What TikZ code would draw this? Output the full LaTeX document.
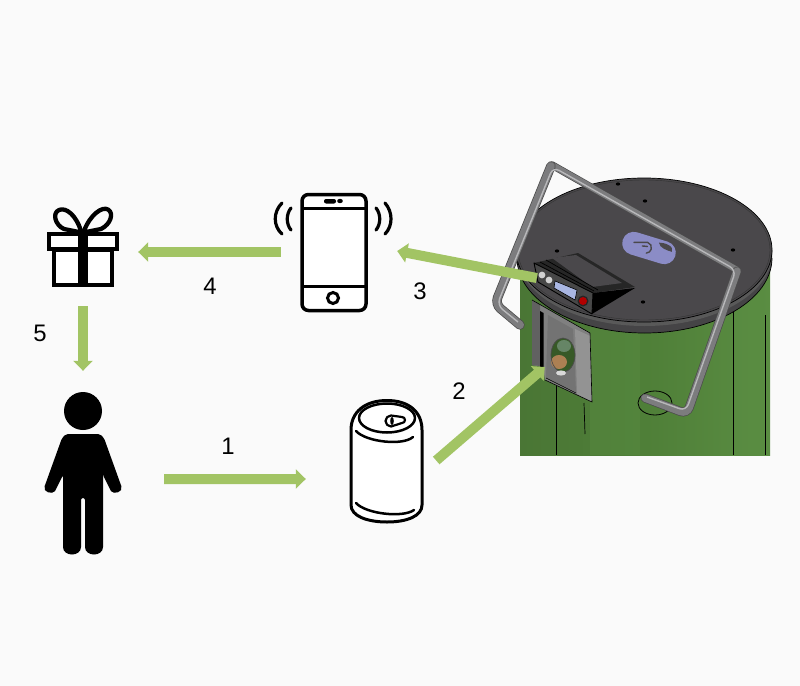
\documentclass[tikz,border=0pt]{standalone}
\usepackage{fontspec}
\setmainfont{Liberation Sans}
\usetikzlibrary{arrows.meta,calc}
\definecolor{bgc}{HTML}{FAFAFA}
\definecolor{flowc}{HTML}{A2C464}
\definecolor{binc}{HTML}{4F7F38}
\definecolor{binl}{HTML}{5A8D42}
\definecolor{bind}{HTML}{4A7635}
\definecolor{lidc}{HTML}{4A484B}
\definecolor{rimc}{HTML}{454446}
\definecolor{tabc}{HTML}{8B8CC6}
\definecolor{screenc}{HTML}{A9B6E2}
\definecolor{tubeg}{HTML}{7C7C7E}
\definecolor{tubel}{HTML}{B8B8BA}
\tikzset{
  flow/.style={draw=flowc,line width=10bp,-{Triangle[length=10bp,width=19bp]}},
  lbl/.style={font=\fontsize{24}{28}\selectfont,inner sep=0pt},
  icon/.style={draw=none,inner sep=0pt,minimum width=#1},
  ln/.style={draw=black,line width=3.5bp,line join=round,line cap=round},
  tubeA/.style={draw=black!70,line width=#1,rounded corners=7bp,line cap=round},
  tubeB/.style={draw=tubeg,line width=#1,rounded corners=7bp,line cap=round},
  tubeC/.style={draw=tubel,line width=1.4bp,rounded corners=7bp}
}
\begin{document}
\begin{tikzpicture}[x=1bp,y=-1bp]
\useasboundingbox (0,0) rectangle (800,686);
\fill[bgc] (0,0) rectangle (800,686);

% anchors for connectors
\node[icon=78bp,minimum height=162bp] (person) at (83,473) {};
\node[icon=74bp,minimum height=123bp] (can) at (386,461.5) {};
\node[icon=120bp,minimum height=119bp] (phone) at (333,252.5) {};
\node[icon=72bp,minimum height=80bp] (gift) at (83,248) {};
\node[icon=252bp,minimum height=298bp] (bin) at (646,306) {};

% ---- bin ----
\shade[left color=bind,right color=binl,middle color=binc] (520,262) rectangle (770,455);
\fill[binl,opacity=.4] (590,320) rectangle (640,455);
\fill[binl,opacity=.5] (735,300) rectangle (765,455);
\draw[black,line width=1bp] (556,385) -- (556,455);
\draw[black,line width=1bp] (733,308) -- (733,455);
\draw[black,line width=.8bp] (765,315) -- (765,455);
\draw[black,line width=.7bp] (584,403) -- (585,434);
\draw[black,line width=.8bp] (655,403) ellipse [x radius=17,y radius=12];
% rim and lid
\fill[rimc] (517,250) -- (517,258) arc[start angle=180,end angle=0,x radius=127.5,y radius=75] -- (772,250) -- cycle;
\fill[black!65] (517,254) arc[start angle=180,end angle=0,x radius=127.5,y radius=72] -- (772,250) arc[start angle=0,end angle=180,x radius=127.5,y radius=72] -- cycle;
\fill[lidc] (644,250) ellipse [x radius=128,y radius=72];
\draw[black,line width=.7bp] (644,250) ellipse [x radius=128,y radius=72];
\draw[black!80,line width=.4bp] (644,250) ellipse [x radius=126,y radius=70];
\draw[black,line width=.7bp] (517,258) arc[start angle=180,end angle=0,x radius=127.5,y radius=75];
\foreach \p in {(645,201),(733,250),(643,302),(557,251),(618,184)}
  \fill[black] \p ellipse [x radius=2.2,y radius=1.6];
% tab
\begin{scope}[shift={(649,248)},rotate=-17]
  \fill[tabc] (-16,-11.5) -- (16,-11.5) arc[start angle=-90,end angle=90,radius=11.5] -- (-16,11.5) arc[start angle=90,end angle=270,radius=11.5] -- cycle;
  \draw[lidc,line width=1.4bp,line cap=round] (-16,-1) -- (-3,-5) arc[start angle=-90,end angle=70,radius=5.5];
  \draw[lidc,line width=1.4bp,line cap=round] (-2,-1) -- (-7,0);
  \fill[lidc] (8,-8) .. controls (14,-10) and (24,-9) .. (23,-3) .. controls (18,-3) and (10,-3) .. (8,-8) -- cycle;
\end{scope}
% door
\fill[black!50] (532,300) -- (590,333) -- (592,402) -- (545,380) -- (543,367) -- (532,365) -- cycle;
\fill[black!62] (532,300) -- (540,305) -- (540,366) -- (532,365) -- cycle;
\fill[black] (540,311) -- (543.5,313) -- (543.5,368) -- (540,367) -- cycle;
\fill[black!55] (548,315) -- (573,329) -- (576,392) -- (546,378) -- cycle;
\fill[gray!85] (575,329) -- (590,336) -- (592,402) -- (577,394) -- cycle;
\draw[black,line width=.6bp] (532,300) -- (590,333) -- (592,402) -- (545,380);
\draw[black,line width=.6bp] (546,378) -- (576,393);
\fill[binc!70!black] (563,355) ellipse [x radius=12,y radius=17];
\fill[brown!70!gray] (559,362) ellipse [x radius=8,y radius=7];
\fill[black!40!green!20!gray] (564,346) ellipse [x radius=7,y radius=6];
\draw[black!70,line width=.7bp] (563,355) ellipse [x radius=12,y radius=17];
\fill[gray!30] (561,373) ellipse [x radius=5,y radius=2.6];
% handle
\draw[tubeA=7.5bp] (737,270) -- (552,165);
\draw[tubeB=6.2bp] (737,270) -- (552,165);
\draw[tubeA=9.5bp] (520,325) -- (495,304) -- (551,166);
\draw[tubeB=8bp] (520,325) -- (495,304) -- (551,166);
\draw[tubeA=9bp] (737,271) -- (687,414) -- (645,398);
\draw[tubeB=7.6bp] (737,271) -- (687,414) -- (645,398);
\draw[tubeC] (518,322) -- (497,305) -- (553,167) -- (736,270) -- (686,411) -- (647,397);
% panel
\fill[black!85] (534,263) -- (578,253) -- (635,287) -- (593,293) -- cycle;
\fill[black] (592,314) -- (635,288) -- (593,293) -- cycle;
\fill[lidc] (552,258) -- (576,255) -- (622,283) -- (592,287) -- cycle;
\draw[black,line width=.7bp] (540,262) -- (594,291);
\draw[black,line width=.7bp] (546,260) -- (598,290);
\fill[black!72] (534,263) -- (538,282) -- (592,314) -- (593,293) -- cycle;
\draw[black,line width=.9bp,line join=round] (534,263) -- (538,282) -- (592,314) -- (593,293) -- cycle;
\fill[screenc] (555,281) -- (577,290) -- (575,300) -- (554,288) -- cycle;
\draw[black,line width=.6bp] (555,281) -- (577,290) -- (575,300) -- (554,288) -- cycle;
\fill[gray!35] (542,275) circle (3.4);
\fill[gray!35] (549,280) circle (3.4);
\fill[black!85] (583,301) circle (5.5);
\fill[red!70!black] (583,301) circle (4);

% ---- can ----
\draw[ln,fill=white,line width=3bp] (351,430) .. controls (351,412) and (365,400.5) .. (387,400.5) .. controls (409,400.5) and (422,412) .. (422,430) -- (422,505) .. controls (422,516) and (407,522) .. (387,522) .. controls (367,522) and (351,516) .. (351,505) -- cycle;
\draw[ln,line width=2.5bp] (387,418) ellipse [x radius=28,y radius=14.5];
\draw[ln,line width=2.5bp] (356,431) .. controls (366,442) and (403,446) .. (413,437);
\draw[ln,line width=2.5bp] (356,503) .. controls (366,514) and (403,518) .. (414,510);
\draw[ln,line width=2.2bp] (391,415.5) -- (402,417) arc[start angle=-90,end angle=90,radius=3] -- (391,426.5) arc[start angle=90,end angle=270,radius=5.5] -- cycle;
\fill (392,421) ellipse [x radius=1.8,y radius=4];

% ---- person ----
\fill[black] (83,411) circle (19);
\fill[black,rounded corners=2bp] (66,434) -- (100,434) -- (104,438) -- (122,488) -- (120,492) -- (112,493) -- (103,475) -- (103,470) -- (103,545) .. controls (103,557) and (85,557) .. (85,545) -- (85,498) -- (81,498) -- (81,545) .. controls (81,557) and (63,557) .. (63,545) -- (63,475) -- (54,493) -- (46,492) -- (44,488) -- (62,438) -- cycle;

% ---- gift ----
\draw[ln,line width=4.5bp,fill=white,line join=miter] (54.2,250) rectangle (111.8,285);
\draw[ln,line width=4.5bp,fill=white,line join=miter] (49.2,234.2) rectangle (116.8,248.8);
\fill[black] (78,232) rectangle (88,287);
\draw[ln,line width=4.3bp] (81,231) .. controls (76,215) and (66,207) .. (59,210) .. controls (52,213) and (55,225) .. (64,229) -- (79,232);
\draw[ln,line width=4.3bp] (84,231) .. controls (90,215) and (102,206) .. (108,209.5) .. controls (114,213) and (111,224) .. (101,229) -- (86,232);

% ---- phone ----
\draw[ln,fill=white,line width=3.5bp,rounded corners=6.5bp] (302,194.5) rectangle (366,310.5);
\draw[ln,line cap=butt,line width=3bp] (302,208) -- (366,208);
\draw[ln,line cap=butt,line width=3bp] (302,286) -- (366,286);
\fill[black,rounded corners=2bp] (324,199) rectangle (336,203.5);
\fill[black] (340,201) ellipse [x radius=2.8,y radius=2.2];
\draw[black,line width=3bp] (333,298) circle (5.5);
\draw[ln,line width=3.2bp] (291,208) .. controls (286,214) and (286,224) .. (291,230);
\draw[ln,line width=3.2bp] (282,203) .. controls (273,212) and (273,226) .. (282,234);
\draw[ln,line width=3.2bp] (376,208) .. controls (381,214) and (381,224) .. (376,230);
\draw[ln,line width=3.2bp] (385,203) .. controls (393,212) and (393,226) .. (385,234);

% ---- connectors ----
\draw[flow] ($(person.east)+(42,6)$) -- ($(can.west)+(-43,17.5)$);
\draw[flow] ($(can.east)+(13,-1)$) -- ($(bin.west)+(25,61)$);
\draw[flow] ($(bin.west)+(17,-28)$) -- ($(phone.east)+(4,-1.5)$);
\draw[flow] ($(phone.west)+(8,-0.5)$) -- ($(gift.east)+(19,4)$);
\draw[flow] ($(gift.south)+(0,18)$) -- ($(person.north)+(0,-21)$);

% ---- labels ----
\node[lbl] (n1) at (228,446) {1};
\node[lbl] (n2) at (459,391) {2};
\node[lbl] (n3) at (420,291) {3};
\node[lbl] (n4) at (210,286) {4};
\node[lbl] (n5) at (40,333) {5};
\end{tikzpicture}
\end{document}
